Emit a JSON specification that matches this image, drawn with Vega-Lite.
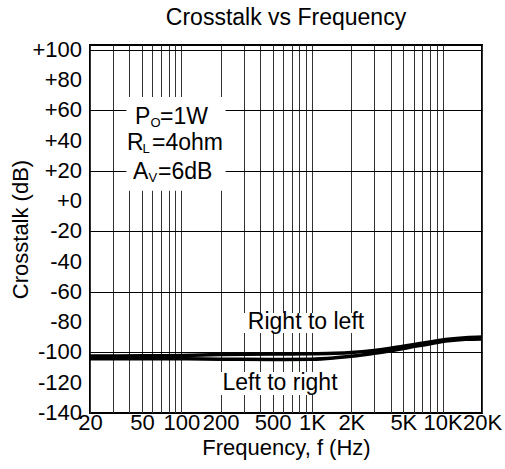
{
  "$schema": "https://vega.github.io/schema/vega-lite/v6.json",
  "width": 392,
  "height": 368,
  "autosize": {"type": "none"},
  "padding": {"left": 90, "top": 45, "right": 23, "bottom": 56},
  "background": "white",
  "title": {"text": "Crosstalk vs Frequency", "fontSize": 23, "font": "Liberation Sans", "fontWeight": "normal", "color": "black", "offset": 9, "anchor": "middle"},
  "config": {
    "view": {"stroke": "black", "strokeWidth": 2},
    "font": "Liberation Sans",
    "axis": {"labelFont": "Liberation Sans", "titleFont": "Liberation Sans", "labelColor": "black", "titleColor": "black", "titleFontWeight": "normal", "gridOpacity": 1, "gridWidth": 1, "domain": false, "ticks": false, "labelOverlap": false}
  },
  "datasets": {
    "curves": [
      {"freq": 20, "db": -102.3, "series": "Right to left"},
      {"freq": 50, "db": -102.2, "series": "Right to left"},
      {"freq": 100, "db": -102, "series": "Right to left"},
      {"freq": 200, "db": -101.4, "series": "Right to left"},
      {"freq": 500, "db": -101, "series": "Right to left"},
      {"freq": 1000, "db": -100.8, "series": "Right to left"},
      {"freq": 1500, "db": -100.5, "series": "Right to left"},
      {"freq": 2000, "db": -100, "series": "Right to left"},
      {"freq": 3000, "db": -98.6, "series": "Right to left"},
      {"freq": 4000, "db": -97.2, "series": "Right to left"},
      {"freq": 5600, "db": -95.2, "series": "Right to left"},
      {"freq": 8000, "db": -93, "series": "Right to left"},
      {"freq": 11000, "db": -91.2, "series": "Right to left"},
      {"freq": 15000, "db": -90.2, "series": "Right to left"},
      {"freq": 20000, "db": -89.8, "series": "Right to left"},
      {"freq": 20, "db": -104.2, "series": "Left to right"},
      {"freq": 50, "db": -104.2, "series": "Left to right"},
      {"freq": 100, "db": -104.2, "series": "Left to right"},
      {"freq": 200, "db": -104.4, "series": "Left to right"},
      {"freq": 500, "db": -104.6, "series": "Left to right"},
      {"freq": 1000, "db": -104.4, "series": "Left to right"},
      {"freq": 1500, "db": -103.5, "series": "Left to right"},
      {"freq": 2000, "db": -102.5, "series": "Left to right"},
      {"freq": 3000, "db": -100.5, "series": "Left to right"},
      {"freq": 4000, "db": -98.8, "series": "Left to right"},
      {"freq": 5600, "db": -96.6, "series": "Left to right"},
      {"freq": 8000, "db": -94.2, "series": "Left to right"},
      {"freq": 11000, "db": -92.3, "series": "Left to right"},
      {"freq": 15000, "db": -91.3, "series": "Left to right"},
      {"freq": 20000, "db": -91, "series": "Left to right"}
    ],
    "yticks": [
      {"db": 100, "label": "+100"},
      {"db": 80, "label": "+80"},
      {"db": 60, "label": "+60"},
      {"db": 40, "label": "+40"},
      {"db": 20, "label": "+20"},
      {"db": 0, "label": "+0"},
      {"db": -20, "label": "-20"},
      {"db": -40, "label": "-40"},
      {"db": -60, "label": "-60"},
      {"db": -80, "label": "-80"},
      {"db": -100, "label": "-100"},
      {"db": -120, "label": "-120"},
      {"db": -140, "label": "-140"}
    ],
    "boxes": [
      {"f1": 38, "f2": 218, "d1": 7, "d2": 69},
      {"f1": 296, "f2": 2683, "d1": -73.9, "d2": -87.1},
      {"f1": 191, "f2": 1697, "d1": -112.9, "d2": -128.1}
    ],
    "params": [
      {"freq": 44.2, "db": 55.7, "main": "P", "sub": "O", "rest": "=1W"},
      {"freq": 38.4, "db": 38.5, "main": "R", "sub": "L", "rest": "=4ohm"},
      {"freq": 42.7, "db": 19.3, "main": "A", "sub": "V", "rest": "=6dB"}
    ],
    "labels": [
      {"freq": 900, "db": -79.8, "label": "Right to left"},
      {"freq": 569, "db": -120.2, "label": "Left to right"}
    ]
  },
  "layer": [
    {
      "data": {"name": "boxes"},
      "mark": {"type": "rect", "fill": "white", "stroke": null},
      "encoding": {
        "x": {"field": "f1", "type": "quantitative",
          "scale": {"type": "log", "domain": [20, 20000], "nice": false},
          "axis": {"title": "Frequency, f (Hz)", "titleFontSize": 22, "labelFontSize": 22, "labelPadding": -1, "titlePadding": 4, "labelFlush": false, "labelOverlap": false, "gridColor": "#333",
            "values": [20,30,40,50,60,70,80,90,100,200,300,400,500,600,700,800,900,1000,2000,3000,4000,5000,6000,7000,8000,9000,10000,20000],
            "labelExpr": "datum.value < 1000 ? (indexof([20,50,100,200,500], datum.value) >= 0 ? '' + datum.value : '') : (indexof([1000,2000,5000,10000,20000], datum.value) >= 0 ? (datum.value/1000) + 'K' : '')"}},
        "x2": {"field": "f2"},
        "y": {"field": "d1", "type": "quantitative",
          "scale": {"domain": [-140, 103.3], "nice": false, "zero": false},
          "axis": {"title": "Crosstalk (dB)", "titleFontSize": 22, "labels": false, "titlePadding": 58, "gridColor": "black",
            "values": [-140,-120,-100,-80,-60,-40,-20,0,20,40,60,80,100]}},
        "y2": {"field": "d2"}
      }
    },
    {
      "data": {"name": "yticks"},
      "mark": {"type": "text", "align": "right", "baseline": "middle", "fontSize": 22, "dx": -8, "color": "black"},
      "encoding": {
        "x": {"datum": 20, "type": "quantitative"},
        "y": {"field": "db", "type": "quantitative"},
        "text": {"field": "label"}
      }
    },
    {
      "data": {"name": "curves"},
      "mark": {"type": "line", "color": "black", "strokeWidth": 3.5, "interpolate": "monotone"},
      "encoding": {
        "x": {"field": "freq", "type": "quantitative"},
        "y": {"field": "db", "type": "quantitative"},
        "detail": {"field": "series"}
      }
    },
    {
      "data": {"name": "params"},
      "mark": {"type": "text", "align": "left", "baseline": "middle", "fontSize": 23, "color": "black"},
      "encoding": {
        "x": {"field": "freq", "type": "quantitative"},
        "y": {"field": "db", "type": "quantitative"},
        "text": {"field": "main"}
      }
    },
    {
      "data": {"name": "params"},
      "mark": {"type": "text", "align": "left", "baseline": "middle", "fontSize": 13, "dx": 15.5, "dy": 6, "color": "black"},
      "encoding": {
        "x": {"field": "freq", "type": "quantitative"},
        "y": {"field": "db", "type": "quantitative"},
        "text": {"field": "sub"}
      }
    },
    {
      "data": {"name": "params"},
      "mark": {"type": "text", "align": "left", "baseline": "middle", "fontSize": 23, "dx": 25, "color": "black"},
      "encoding": {
        "x": {"field": "freq", "type": "quantitative"},
        "y": {"field": "db", "type": "quantitative"},
        "text": {"field": "rest"}
      }
    },
    {
      "data": {"name": "labels"},
      "mark": {"type": "text", "align": "center", "baseline": "middle", "fontSize": 23, "color": "black"},
      "encoding": {
        "x": {"field": "freq", "type": "quantitative"},
        "y": {"field": "db", "type": "quantitative"},
        "text": {"field": "label"}
      }
    }
  ]
}
